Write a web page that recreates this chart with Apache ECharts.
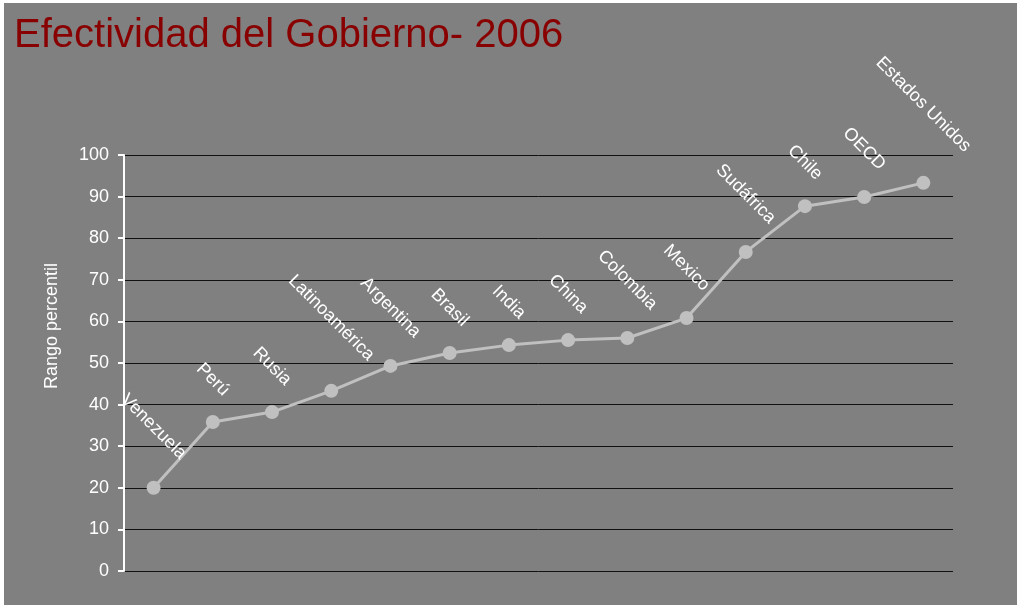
<!DOCTYPE html>
<html>
<head>
<meta charset="utf-8">
<script src="https://cdn.jsdelivr.net/npm/echarts@6/dist/echarts.min.js"></script>
<style>
  html, body { margin: 0; padding: 0; background: #ffffff; }
  #chart { position: absolute; left: 4px; top: 3px; width: 1013px; height: 602px; }
</style>
</head>
<body>
<div id="chart"></div>
<script>
// Country / group names along the line
const countries = ['Venezuela', 'Perú', 'Rusia', 'Latinoamérica', 'Argentina', 'Brasil', 'India',
    'China', 'Colombia', 'Mexico', 'Sudáfrica', 'Chile', 'OECD', 'Estados Unidos'];
// Percentile rank, government effectiveness 2006
const percentil = [20, 35.8, 38.2, 43.3, 49.3, 52.4, 54.3, 55.5, 56, 60.8, 76.7, 87.7, 89.9, 93.3];
const yTicks = { min: 0, max: 100, interval: 10 };

const labelFont = '18px "Liberation Sans", Arial, sans-serif';
const measureCtx = document.createElement('canvas').getContext('2d');
measureCtx.font = labelFont;

var chart = echarts.init(document.getElementById('chart'));

var option = {
    backgroundColor: '#808080',
    title: {
        text: 'Efectividad del Gobierno- 2006',
        left: 10,
        top: 13,
        padding: 0,
        textStyle: {
            color: '#880000',
            fontSize: 40,
            fontWeight: 'normal',
            fontFamily: '"Liberation Sans", Arial, sans-serif'
        }
    },
    grid: { left: 120, right: 64, top: 152, bottom: 34 },
    xAxis: {
        type: 'category',
        data: countries,
        boundaryGap: true,
        axisLine: { show: false },
        axisTick: { show: false },
        axisLabel: { show: false },
        splitLine: { show: false }
    },
    yAxis: {
        type: 'value',
        min: yTicks.min,
        max: yTicks.max,
        interval: yTicks.interval,
        name: 'Rango percentil',
        nameLocation: 'middle',
        nameGap: 63,
        nameTextStyle: {
            color: '#ffffff',
            fontSize: 18,
            fontFamily: '"Liberation Sans", Arial, sans-serif',
            padding: [0, 0, 0, 74]
        },
        axisLine: { show: true, lineStyle: { color: '#ffffff', width: 2 } },
        axisTick: { show: true, length: 6, lineStyle: { color: '#ffffff', width: 2 } },
        axisLabel: {
            color: '#ffffff',
            fontSize: 18,
            margin: 15,
            fontFamily: '"Liberation Sans", Arial, sans-serif'
        },
        splitLine: { show: true, lineStyle: { color: '#111111', width: 1 } }
    },
    series: [{
        type: 'line',
        data: percentil,
        symbol: 'circle',
        symbolSize: 14,
        itemStyle: { color: '#c0c0c0' },
        lineStyle: { color: '#c0c0c0', width: 3 },
        label: {
            show: true,
            formatter: '{b}',
            color: '#ffffff',
            fontSize: 18,
            fontFamily: '"Liberation Sans", Arial, sans-serif'
        },
        labelLayout: function (params) {
            const r = params.rect;
            const len = measureCtx.measureText(params.text).width * 1.15;
            const d = 0.354 * len + 0.354 * 14 + 22;
            return {
                x: r.x + r.width / 2,
                y: r.y + r.height / 2 - d,
                align: 'center',
                verticalAlign: 'middle',
                rotate: -45
            };
        },
        animation: false
    }]
};

chart.setOption(option);
</script>
</body>
</html>
